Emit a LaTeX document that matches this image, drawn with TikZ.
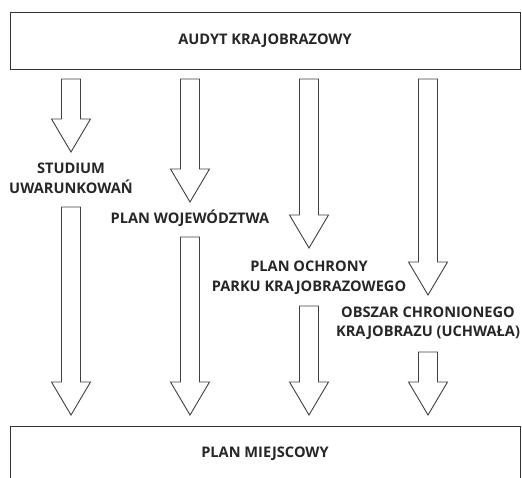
\documentclass[tikz,border=0pt]{standalone}
\usepackage{fontspec}
\setmainfont{Open Sans}
\begin{document}
\begin{tikzpicture}[x=1pt,y=-1pt,
  box/.style={draw=black!80,line width=1pt},
  lbl/.style={font=\bfseries\fontsize{14.6}{19.5}\selectfont,text=black!85,align=center,inner sep=0pt},
  barrow/.style={draw=black!75,line width=0.9pt,fill=white,line join=miter}]
\useasboundingbox (0,0) rectangle (522,477);
\newcommand{\blockarr}[3]{%
  \draw[barrow] (#1-9.5,#2) -- (#1+9.5,#2) -- (#1+9.5,#3-33) -- (#1+19.5,#3-33)
    -- (#1,#3) -- (#1-19.5,#3-33) -- (#1-9.5,#3-33) -- cycle;}
% boxes
\draw[box] (10,12) rectangle (520,69);
\node[lbl] (audyt) at (265,41) {AUDYT KRAJOBRAZOWY};
\begin{scope}
\clip (0,0) rectangle (522,477);
\draw[box] (10,426) rectangle (520,490);
\end{scope}
\node[lbl] (plan) at (265,454) {PLAN MIEJSCOWY};
% labels
\node[lbl] (stud) at (71,178.5) {STUDIUM\\UWARUNKOWAŃ};
\node[lbl] (woj) at (190,218) {PLAN WOJEWÓDZTWA};
\node[lbl] (ochr) at (309,277.5) {PLAN OCHRONY\\PARKU KRAJOBRAZOWEGO};
\node[lbl] (obsz) at (428,323) {OBSZAR CHRONIONEGO\\KRAJOBRAZU (UCHWAŁA)};
% arrows
\blockarr{71}{79}{152}
\blockarr{190}{79}{202}
\blockarr{309}{79}{248}
\blockarr{428}{79}{295}
\blockarr{71}{207}{415}
\blockarr{190}{237}{415}
\blockarr{309}{306}{415}
\blockarr{428}{352}{415}
\end{tikzpicture}
\end{document}
